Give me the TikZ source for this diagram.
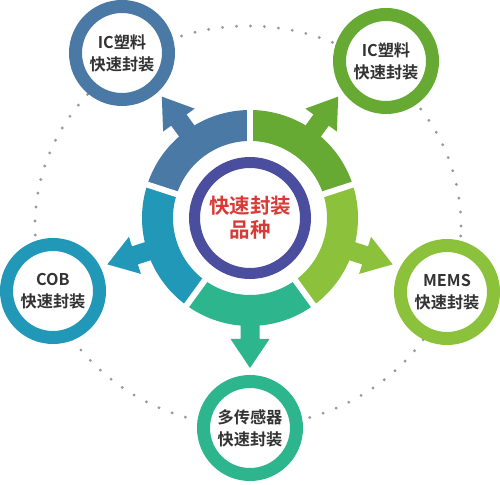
\documentclass[tikz,border=0pt]{standalone}
\usepackage{fontspec}
\newfontfamily\cjk{Noto Sans CJK SC}[BoldFont={Noto Sans CJK SC Bold}]
\definecolor{tlblue}{HTML}{4A79A5}
\definecolor{trgreen}{HTML}{66AA33}
\definecolor{rlime}{HTML}{8BC13B}
\definecolor{bteal}{HTML}{2DB58E}
\definecolor{lcyan}{HTML}{2298B8}
\definecolor{hubring}{HTML}{4B4E9E}
\definecolor{hubred}{HTML}{D93A35}
\definecolor{dotgray}{HTML}{9A9A9A}
\definecolor{txtgray}{HTML}{333333}

\begin{document}
\begin{tikzpicture}[x=1pt,y=1pt,
  every node/.style={font=\cjk\bfseries, align=center},
  kind/.style={circle,draw,fill=white,line width=13,minimum size=93,inner sep=0pt,
    text=txtgray,font=\cjk\bfseries\fontsize{16.2}{22}\selectfont},
  dots/.style={draw=dotgray,line width=3.2,line cap=round,dash pattern=on 0pt off 14pt},
  gap/.style={draw=white,line width=6}]
  \useasboundingbox (0,0) rectangle (500,484);
  \draw[dots] (248,258) ellipse[x radius=213,y radius=200];

  \node[kind,draw=tlblue] (ictl) at (122,431) {IC塑料\\快速封装};
  \node[kind,draw=trgreen] (ictr) at (386,423) {IC塑料\\快速封装};
  \node[kind,draw=lcyan] (cob) at (53,193) {COB\\快速封装};
  \node[kind,draw=rlime] (mems) at (447,192) {MEMS\\快速封装};
  \node[kind,draw=bteal] (multi) at (250,56) {多传感器\\快速封装};

  \node[circle,draw=hubring,line width=11,minimum size=111,inner sep=0pt,text=hubred,
    font=\cjk\bfseries\fontsize{20.5}{24}\selectfont] (hub) at (250,266) {快速封装\\品种};

  \begin{scope}[shift={(hub.center)}]
    \fill[tlblue] (90:77) arc[start angle=90,end angle=162,radius=77] -- (162:108) arc[start angle=162,end angle=90,radius=108] -- cycle;
    \fill[lcyan] (162:77) arc[start angle=162,end angle=234,radius=77] -- (234:108) arc[start angle=234,end angle=162,radius=108] -- cycle;
    \fill[bteal] (234:77) arc[start angle=234,end angle=306,radius=77] -- (306:108) arc[start angle=306,end angle=234,radius=108] -- cycle;
    \fill[rlime] (-54:77) arc[start angle=-54,end angle=18,radius=77] -- (18:108) arc[start angle=18,end angle=-54,radius=108] -- cycle;
    \fill[trgreen] (18:77) arc[start angle=18,end angle=90,radius=77] -- (90:108) arc[start angle=90,end angle=18,radius=108] -- cycle;
    \draw[gap] (90:70) -- (90:114);
    \draw[gap] (162:70) -- (162:114);
    \draw[gap] (234:70) -- (234:114);
    \draw[gap] (306:70) -- (306:114);
    \draw[gap] (18:70) -- (18:114);
    \fill[tlblue,rotate=126] (100,-9.5) -- (121,-9.5) -- (121,-19.5) -- (150,0) -- (121,19.5) -- (121,9.5) -- (100,9.5) -- cycle;
    \fill[lcyan,rotate=198] (100,-9.5) -- (121,-9.5) -- (121,-19.5) -- (150,0) -- (121,19.5) -- (121,9.5) -- (100,9.5) -- cycle;
    \fill[bteal,rotate=270] (100,-9.5) -- (121,-9.5) -- (121,-19.5) -- (150,0) -- (121,19.5) -- (121,9.5) -- (100,9.5) -- cycle;
    \fill[rlime,rotate=-18] (100,-9.5) -- (121,-9.5) -- (121,-19.5) -- (150,0) -- (121,19.5) -- (121,9.5) -- (100,9.5) -- cycle;
    \fill[trgreen,rotate=54] (100,-9.5) -- (121,-9.5) -- (121,-19.5) -- (150,0) -- (121,19.5) -- (121,9.5) -- (100,9.5) -- cycle;
  \end{scope}
\end{tikzpicture}
\end{document}
